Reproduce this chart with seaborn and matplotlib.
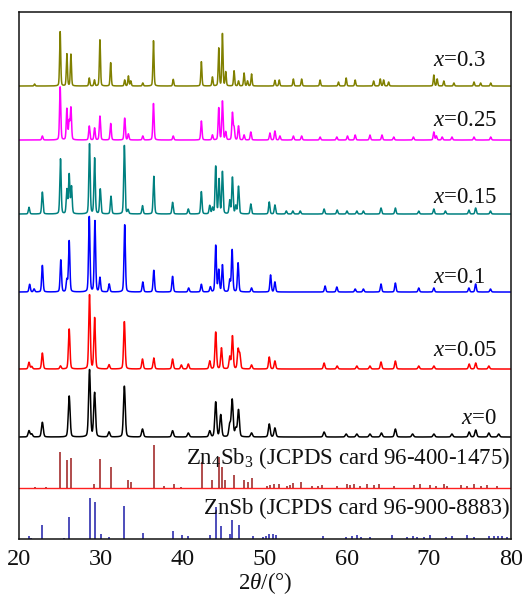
import numpy as np
import pandas as pd
import matplotlib
matplotlib.use("Agg")
import matplotlib.pyplot as plt
import seaborn as sns

# ---------------- data ----------------
# measured patterns: peak positions (2theta, deg) and peak heights (a.u.)
x0_pos = [21.22, 21.55, 22.85, 26.12, 28.60, 29.22, 30.98, 32.85, 35.06, 38.73, 40.65,
          43.26, 43.99, 44.60, 45.70, 46.00, 46.44, 46.77, 48.36, 50.52, 51.21, 57.21,
          59.90, 61.20, 62.80, 64.20, 65.90, 68.00, 70.60, 72.80, 74.90, 75.70, 77.30, 78.50]
x0_int = [6.3, 3, 14.7, 41, 67, 44, 5, 51, 8, 6.3, 4,
          6, 35, 22, 12, 37, 8, 27, 4, 13, 9, 5,
          3, 3, 3, 4, 8, 3, 3, 3, 5, 7, 4, 3]

x005_pos = [21.22, 21.55, 22.85, 25.06, 26.12, 28.60, 29.22, 30.98, 32.85, 35.06, 36.44,
            38.73, 39.80, 40.65, 43.26, 43.99, 44.69, 45.70, 46.03, 46.72, 46.93, 48.36,
            50.52, 51.21, 57.21, 58.80, 61.20, 62.80, 64.15, 65.90, 68.75, 70.60, 74.90,
            75.70, 77.30]
x005_int = [6.7, 2.5, 16, 3, 40, 74, 51, 4.3, 47.6, 10, 11,
            10, 4, 5, 8, 37, 21, 12, 33, 19, 14, 4,
            12, 8, 6, 3, 3, 3, 7, 8, 3, 3, 5,
            6, 3]

x01_pos = [21.30, 21.84, 22.85, 25.10, 25.84, 26.12, 28.57, 29.26, 29.87, 31.00, 32.89,
           35.10, 36.44, 38.73, 40.69, 42.24, 43.34, 43.99, 44.36, 44.81, 45.70, 45.99,
           46.72, 48.36, 50.68, 51.21, 57.33, 58.76, 61.00, 62.00, 64.15, 65.90, 68.75,
           70.59, 74.87, 75.69, 77.50]
x01_int = [7.7, 3, 26.7, 32, 12, 51, 75.7, 71, 14.3, 8, 67.7,
           10, 21.7, 15.7, 4, 7.7, 5, 46.7, 21.7, 27, 11.7, 42.3,
           29, 4, 17, 10, 6, 5, 3, 3, 8, 9, 4,
           4, 4, 8, 3]

x015_pos = [21.22, 22.85, 25.06, 25.84, 26.12, 26.40, 28.60, 29.22, 29.91, 31.22, 32.85,
            33.30, 35.06, 36.44, 38.73, 40.65, 42.24, 43.26, 43.60, 43.99, 44.40, 44.81,
            45.70, 46.03, 46.44, 46.77, 48.27, 50.52, 51.21, 52.60, 53.40, 54.30, 57.21,
            58.80, 60.00, 61.20, 62.00, 64.15, 65.90, 68.75, 70.59, 72.00, 74.87, 75.69,
            77.50]
x015_int = [6.7, 22, 55, 24, 39, 27, 70, 55.7, 25, 17.7, 69,
            4, 8.3, 37.7, 11.7, 5, 22.3, 8.3, 6, 47.7, 34.3, 42.3,
            13.3, 36.7, 8, 27.7, 10, 12, 9, 3, 3, 3, 5,
            4, 3, 3, 3, 6, 6, 3, 5, 3, 4, 6,
            3]

x025_pos = [22.85, 25.02, 25.84, 26.12, 26.33, 28.57, 29.22, 29.87, 31.18, 32.89, 33.34,
            35.10, 36.40, 38.81, 42.24, 43.59, 44.36, 44.81, 45.21, 46.03, 46.23, 46.77,
            47.45, 48.27, 50.60, 51.21, 51.82, 53.46, 54.47, 56.72, 58.76, 60.06, 61.00,
            62.80, 64.27, 65.70, 68.10, 70.59, 70.90, 71.61, 72.80, 75.49, 77.53]
x025_int = [4, 53, 31, 18, 32, 14, 12, 24, 16.5, 22, 6,
            4, 36.5, 4, 19, 5, 32, 39, 8, 27, 12, 14,
            5, 8, 7, 9, 4, 4, 4, 3, 3, 4, 5,
            5, 5, 3, 3, 8, 4, 3, 3, 3, 3]

x03_pos = [21.90, 25.02, 25.84, 26.33, 28.57, 29.20, 29.87, 31.18, 32.89, 33.34, 33.63,
           35.10, 36.40, 38.81, 42.24, 43.59, 44.36, 44.81, 45.21, 46.23, 46.77, 47.45,
           47.87, 48.36, 51.21, 51.74, 53.46, 54.47, 56.72, 58.96, 59.90, 61.00, 63.25,
           64.06, 64.47, 65.08, 70.59, 71.00, 71.81, 73.04, 75.49, 76.30, 77.53]
x03_int = [2, 54.3, 32, 32, 8, 6, 46.7, 23.3, 6, 10, 5,
           3, 45.3, 6.7, 24.3, 9, 37.7, 52.7, 14, 15.3, 5, 13,
           5, 12, 5.7, 6, 7, 7, 6, 4, 8, 6, 5,
           7, 6, 4, 11, 7, 5, 3, 4, 3, 3]

# reference cards (stick patterns)
zn4sb3_pos = [21.92, 23.26, 25.06, 25.84, 26.40, 29.10, 29.91, 31.22, 33.34, 33.63, 36.44,
              37.67, 38.89, 39.79, 42.32, 43.59, 44.36, 44.81, 45.13, 46.23, 47.45, 47.87,
              48.36, 50.19, 50.60, 51.09, 51.70, 52.64, 53.05, 53.38, 54.36, 55.70, 56.51,
              56.93, 58.76, 60.06, 60.39, 60.80, 61.62, 62.43, 63.25, 63.86, 65.70, 68.14,
              68.96, 70.18, 70.80, 71.81, 72.23, 73.86, 74.67, 75.49, 76.30, 77.12, 78.35]
zn4sb3_int = [1.5, 1, 35.7, 28, 30, 4, 28.7, 20.7, 8, 6, 43,
              2, 3.7, 1, 26.3, 8, 31.3, 21.3, 8, 13, 8, 6.3,
              9.7, 2, 3, 4, 4, 2, 3.3, 4.7, 6.3, 2, 2,
              3, 2, 4, 3, 4, 2, 4, 3, 4, 2, 3,
              4, 3, 2, 4, 2, 3, 2, 4, 2, 3, 2]

znsb_pos = [21.22, 21.50, 22.85, 25.43, 26.12, 28.60, 29.22, 29.95, 30.98, 32.85, 35.09,
            38.73, 39.87, 40.65, 43.26, 43.99, 44.60, 45.70, 45.99, 46.77, 48.48, 49.78,
            50.11, 50.52, 50.93, 51.30, 57.13, 59.90, 60.60, 61.21, 61.70, 62.84, 65.49,
            67.33, 68.06, 68.55, 69.37, 70.18, 72.02, 72.84, 74.67, 75.49, 77.32, 77.94,
            78.42, 78.96, 79.49]
znsb_int = [3.3, 1, 13.7, 1.5, 21.7, 41, 36.7, 4.7, 2.3, 33, 5.7,
            7.7, 4, 2.7, 4, 31.7, 13, 5, 19, 13.7, 3, 2,
            3, 5, 5, 4, 3, 2, 3, 4, 2, 2, 4,
            2, 3, 2, 2, 4, 2, 3, 4, 2, 3, 3,
            3, 3, 2]

labels = ["0", "0.05", "0.1", "0.15", "0.25", "0.3"]
colors = ["#000000", "#ff0000", "#0000ff", "#008080", "#ff00ff", "#808000"]
offsets = [102, 170, 247, 325, 399, 453]
widths = [0.26, 0.22, 0.20, 0.19, 0.18, 0.16]
peak_sets = [(x0_pos, x0_int), (x005_pos, x005_int), (x01_pos, x01_int),
             (x015_pos, x015_int), (x025_pos, x025_int), (x03_pos, x03_int)]
label_pos = [(73.9, 121), (70.55, 189), (70.55, 262), (70.55, 342), (70.55, 419), (70.55, 479)]

# ---------------- profile ----------------
two_theta = np.arange(20.0, 80.0001, 0.02)


def profile(pos, inten, fwhm, eta=0.25):
    y = np.zeros_like(two_theta)
    for c, h in zip(pos, inten):
        d = (two_theta - c) / fwhm
        lor = 1.0 / (1.0 + 4.0 * d * d)
        gau = np.exp(-4.0 * np.log(2.0) * d * d)
        y += h * (eta * lor + (1 - eta) * gau)
    return y


frames = []
for lab, (pos, inten), off, w in zip(labels, peak_sets, offsets, widths):
    frames.append(pd.DataFrame({"two_theta": two_theta,
                                "intensity": profile(pos, inten, w) + off,
                                "x": lab}))
data = pd.concat(frames, ignore_index=True)

# ---------------- style ----------------
sns.set_theme(style="white")
plt.rcParams["font.family"] = ["Liberation Serif", "DejaVu Serif"]
plt.rcParams["mathtext.fontset"] = "custom"
plt.rcParams["mathtext.rm"] = "Liberation Serif"
plt.rcParams["mathtext.it"] = "Liberation Serif:italic"

fig = plt.figure(figsize=(5.22, 5.95), dpi=100)
ax = fig.add_axes([0.0364, 0.0941, 0.9425, 0.8857])

sns.lineplot(data=data, x="two_theta", y="intensity", hue="x", hue_order=labels,
             palette=dict(zip(labels, colors)), estimator=None, sort=False,
             linewidth=1.1, legend=False, ax=ax)

# reference cards
zn4sb3_base = 51
ax.axhline(zn4sb3_base, color="#ff2020", linewidth=1.0)
ax.vlines(zn4sb3_pos, zn4sb3_base, np.array(zn4sb3_int) + zn4sb3_base,
          color="#9b1b1b", linewidth=1.1)
ax.vlines(znsb_pos, 0, np.array(znsb_int), color="#1c1ca8", linewidth=1.1)

for lab, (tx, ty) in zip(labels, label_pos):
    ax.text(tx, ty, r"$\mathit{x}$=" + lab, fontsize=16.5, ha="left", va="center",
            color="#111111")

ax.text(79.85, 81, r"Zn$_4$Sb$_3$ (JCPDS card 96-400-1475)", fontsize=16.5,
        ha="right", va="center", color="#111111")
ax.text(79.85, 31, "ZnSb (JCPDS card 96-900-8883)", fontsize=16.5,
        ha="right", va="center", color="#111111")

ax.set_xlim(20, 80)
ax.set_ylim(0, 527)
ax.set_xticks([20, 30, 40, 50, 60, 70, 80])
ax.set_yticks([])
ax.tick_params(axis="x", direction="in", length=0, pad=7, labelsize=17.5,
               colors="#111111")
ax.set_xlabel(r"2$\mathit{\theta}$/(°)", fontsize=16.5, labelpad=0, color="#111111")
ax.set_ylabel("")
for sp in ax.spines.values():
    sp.set_visible(True)
    sp.set_color("#111111")
    sp.set_linewidth(1.1)

fig.savefig("out.png", dpi=100)
